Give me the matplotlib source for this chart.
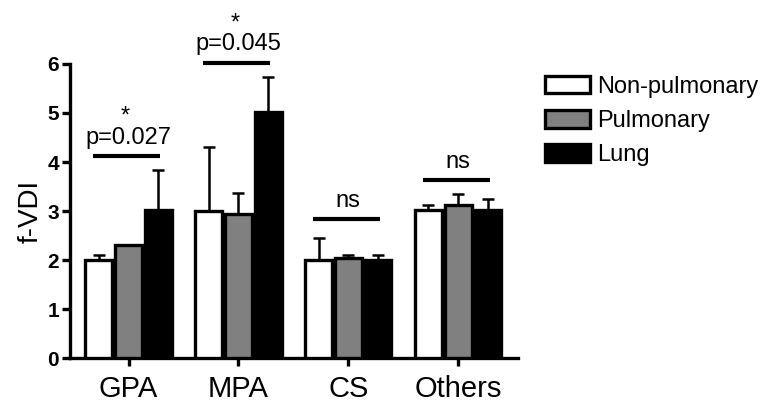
import numpy as np
import matplotlib.pyplot as plt

plt.rcParams['font.family'] = ['Liberation Sans', 'DejaVu Sans']

groups = ['GPA', 'MPA', 'CS', 'Others']
series = ['Non-pulmonary', 'Pulmonary', 'Lung']
colors = ['white', '#808080', 'black']

non_pulmonary = [2.00, 3.01, 2.00, 3.02]
pulmonary = [2.31, 2.94, 2.05, 3.12]
lung = [3.02, 5.03, 2.00, 3.02]

non_pulmonary_err = [0.10, 1.29, 0.44, 0.10]
pulmonary_err = [0.0, 0.43, 0.05, 0.23]
lung_err = [0.82, 0.70, 0.10, 0.22]

sig_heights = [4.12, 6.03, 2.83, 3.63]
sig_labels = ['p=0.027', 'p=0.045', 'ns', 'ns']
sig_stars = ['*', '*', '', '']


def main():
    fig = plt.figure(figsize=(7.64, 4.05), dpi=100)
    ax = fig.add_axes([0.092, 0.116, 0.586, 0.726])

    x = np.arange(len(groups))
    width = 0.245
    offsets = [-0.27, 0.0, 0.27]
    values = [non_pulmonary, pulmonary, lung]
    errs = [non_pulmonary_err, pulmonary_err, lung_err]

    for i in range(3):
        ax.bar(x + offsets[i], values[i], width, color=colors[i],
               edgecolor='black', linewidth=2.4, label=series[i], zorder=3)
        ax.errorbar(x + offsets[i], values[i],
                    yerr=[np.zeros(len(groups)), errs[i]],
                    fmt='none', ecolor='black', elinewidth=1.8,
                    capsize=4.5, capthick=1.8, zorder=2)

    # significance bars
    for xi, h, lab, star in zip(x, sig_heights, sig_labels, sig_stars):
        ax.plot([xi - 0.32, xi + 0.29], [h, h], color='black', lw=3,
                clip_on=False, solid_capstyle='butt')
        ax.text(xi, h + 0.25, lab, ha='center', va='baseline',
                fontsize=17)
        if star:
            ax.text(xi - 0.03, h + 0.68, star, ha='center', va='baseline',
                    fontsize=17)

    ax.set_xlim(-0.53, 3.545)
    ax.set_ylim(0, 6)
    ax.set_xticks(x)
    ax.set_xticklabels(groups, fontsize=21)
    ax.set_yticks(range(7))
    ax.set_yticklabels([str(v) for v in range(7)], fontsize=15,
                       fontweight='bold')
    ax.set_ylabel('f-VDI', fontsize=20, labelpad=3)

    for side in ['top', 'right']:
        ax.spines[side].set_visible(False)
    for side in ['left', 'bottom']:
        ax.spines[side].set_linewidth(2.4)
    ax.tick_params(axis='both', width=2.4, length=6)
    ax.tick_params(axis='y', pad=2)
    ax.tick_params(axis='x', pad=6)

    fig.legend(*ax.get_legend_handles_labels(), loc='upper left',
               bbox_to_anchor=(0.713, 0.813), frameon=False,
               fontsize=17, handlelength=1.9, handleheight=0.76,
               labelspacing=0.52, handletextpad=0.34, borderaxespad=0,
               borderpad=0)

    fig.savefig('out.png', dpi=100)


if __name__ == '__main__':
    main()
